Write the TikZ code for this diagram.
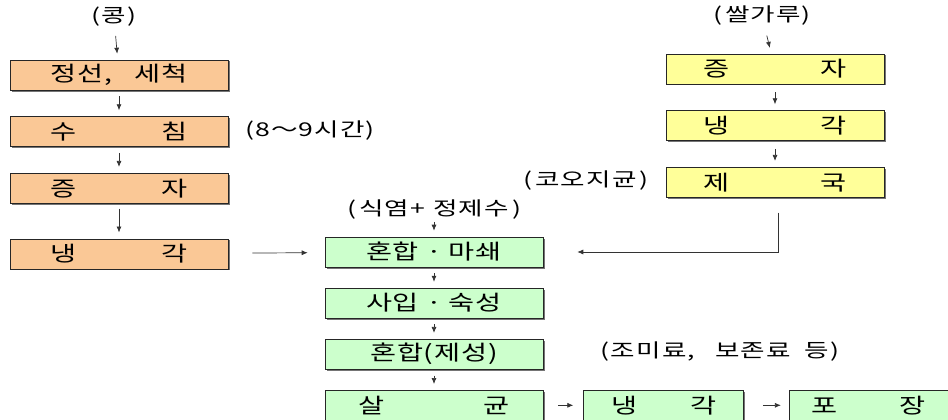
\documentclass[tikz,border=0pt]{standalone}
\usepackage{fontspec}
\setmainfont{Noto Sans CJK KR}[FakeStretch=1.4,LetterSpace=6]
\newfontfamily\boxfont{Noto Sans CJK KR}[FakeStretch=1.35,LetterSpace=4]
\usepackage{tikz}
\usetikzlibrary{arrows.meta,positioning,shadows}
\usepackage{xcolor}
\definecolor{beanorange}{RGB}{250,200,150}
\definecolor{mixgreen}{RGB}{204,255,204}
\definecolor{riceyellow}{RGB}{255,255,153}
\newcommand{\pairtext}[3]{\makebox[#1]{#2\hfill#3}}

\begin{document}
\begin{tikzpicture}[
        x=1pt, y=-1pt,
        box/.style={rectangle,draw=black!85,line width=0.6pt,minimum width=218pt,minimum height=30pt,inner sep=0pt,
            font=\boxfont\fontsize{21}{23}\selectfont,
            drop shadow={shadow xshift=1.5pt,shadow yshift=-1.5pt,fill=black!60,opacity=0.9}},
        bean/.style={box,fill=beanorange},
        mix/.style={box,fill=mixgreen},
        rice/.style={box,fill=riceyellow},
        lbl/.style={font=\fontsize{19}{21}\selectfont,inner sep=1pt},
        flow/.style={-{Latex[length=6pt,width=5pt]},line width=0.7pt,black!80,shorten <=6pt,shorten >=6pt}
    ]
        \useasboundingbox (0,0) rectangle (948,420);

        % soybean line
        \node[lbl] (kong) at (114,17) {(콩)};
        \node[bean] (c1) at (119,75) {정선,\hspace{22pt}세척};
        \node[bean, below=26pt of c1] (c2) {\pairtext{137pt}{수}{침}};
        \node[bean, below=26pt of c2] (c3) {\pairtext{137pt}{증}{자}};
        \node[bean, below=35pt of c3] (c4) {\pairtext{137pt}{냉}{각}};
        \node[lbl] (soak) at (310,131) {(8～9시간)};

        % rice line
        \node[lbl] (ricepow) at (762,16) {(\,쌀가루)};
        \node[rice] (r1) at (775,69) {\pairtext{143pt}{증}{자}};
        \node[rice, below=26pt of r1] (r2) {\pairtext{143pt}{냉}{각}};
        \node[rice, below=26pt of r2] (r3) {\pairtext{143pt}{제}{국}};
        \node[lbl] (koji) at (586,181) {(\,코오지균\,)};

        % main line
        \node[lbl] (salt) at (434,210) {(\,식염+\hspace{8pt}정제수\,)};
        \node[mix] (m1) at (434,252) {혼합\hspace{7pt}·\hspace{7pt}마쇄};
        \node[mix, below=20.5pt of m1] (m2) {사입\hspace{7pt}·\hspace{7pt}숙성};
        \node[mix, below=20.5pt of m2] (m3) {혼합(제성)};
        \node[mix, below=20.5pt of m3] (m4) {\pairtext{151pt}{살}{균}};
        \node[lbl] (season) at (720,352) {(조미료,\hspace{20pt}보존료\hspace{14pt}등)};
        \node[mix, minimum width=160pt, right=40pt of m4] (b1) {\pairtext{105pt}{냉}{각}};
        \node[mix, minimum width=159pt, right=45pt of b1] (b2) {\pairtext{114pt}{포}{장}};

        \draw[flow, shorten <=8pt] (kong) -- (c1);
        \draw[flow] (c1) -- (c2);
        \draw[flow] (c2) -- (c3);
        \draw[flow, shorten <=5pt] (c3) -- (c4);
        \draw[flow, shorten <=24pt, shorten >=17pt] (c4) -- (m1);

        \draw[flow, shorten <=9pt, shorten >=6pt] (ricepow) -- (r1);
        \draw[flow, shorten <=8pt, shorten >=6pt] (r1) -- (r2);
        \draw[flow, shorten <=8pt, shorten >=6pt] (r2) -- (r3);
        \draw[flow, shorten <=0pt, shorten >=0pt] ([xshift=3pt,yshift=-15pt]r3.south) |- ([xshift=34pt]m1.east);

        \draw[flow, shorten <=1pt] (salt) -- (m1);
        \draw[flow] (m1) -- (m2);
        \draw[flow] (m2) -- (m3);
        \draw[flow] (m3) -- (m4);
        \draw[flow, shorten <=15pt, shorten >=10pt] (m4) -- (b1);
        \draw[flow, shorten <=19pt, shorten >=8pt] (b1) -- (b2);
    \end{tikzpicture}
\end{document}
